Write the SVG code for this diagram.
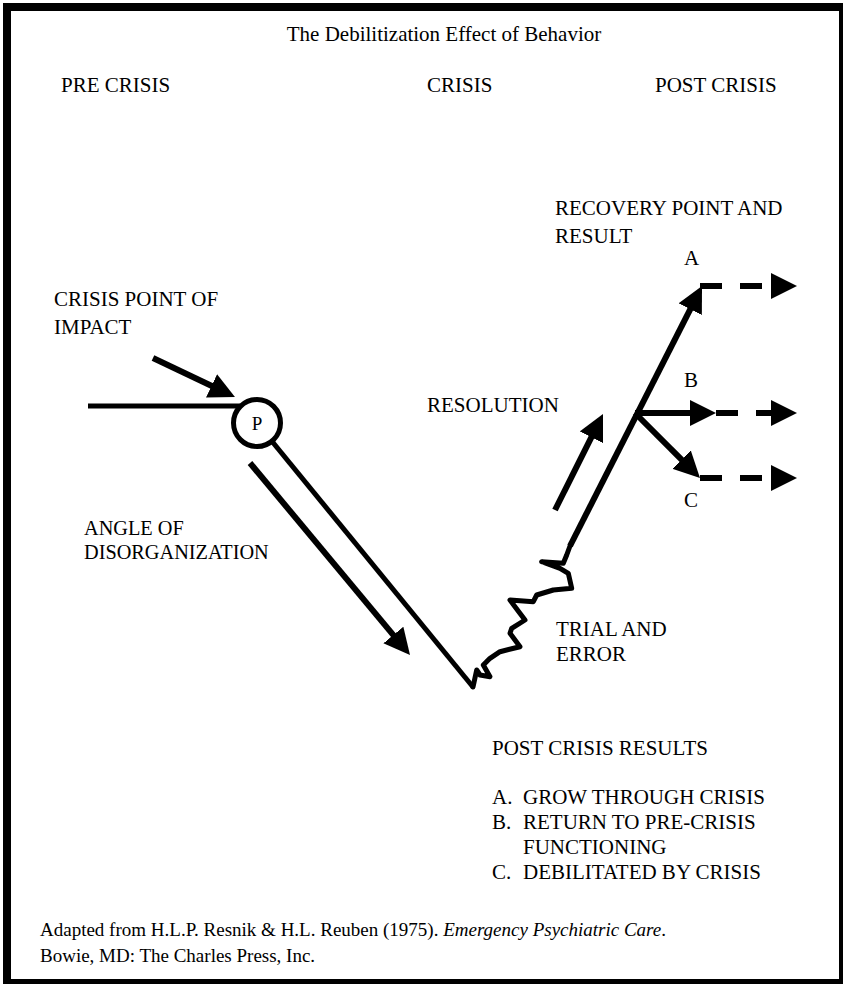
<svg xmlns="http://www.w3.org/2000/svg" width="844" height="984" viewBox="0 0 844 984">
  <style>
    text { font-family: "Liberation Serif", "Times New Roman", serif; fill: #000; }
    .lbl { font-size: 21px; }
    .foot { font-size: 19px; }
    .ln { stroke: #000; stroke-width: 5; fill: none; }
    .arr { stroke: #000; stroke-width: 6; fill: none; marker-end: url(#head); }
    .dash { stroke: #000; stroke-width: 6; fill: none; stroke-dasharray: 22 18; marker-end: url(#head); }
  </style>
  <defs>
    <marker id="head" markerUnits="userSpaceOnUse" viewBox="0 0 26 26" refX="1" refY="13" markerWidth="26" markerHeight="26" orient="auto">
      <path d="M0,0 L26,13 L0,26 z" fill="#000"/>
    </marker>
  </defs>

  <rect width="844" height="984" fill="#fff"/>
  <!-- frame: heavy top/left, lighter right/bottom -->
  <g id="frame" fill="#000">
    <rect x="3" y="3" width="840" height="8"/>
    <rect x="3" y="3" width="8" height="981"/>
    <rect x="839" y="3" width="4" height="981"/>
    <rect x="3" y="979" width="840" height="5"/>
  </g>

  <g id="headings">
    <text class="lbl" x="444" y="41" text-anchor="middle">The Debilitization Effect of Behavior</text>
    <text class="lbl" x="61" y="92">PRE CRISIS</text>
    <text class="lbl" x="427" y="92">CRISIS</text>
    <text class="lbl" x="655" y="92">POST CRISIS</text>
  </g>

  <g id="connectors">
    <!-- baseline into the point of impact -->
    <line class="ln" x1="88" y1="406" x2="240" y2="406" stroke-width="6"/>
    <!-- descent from P to the low point -->
    <line class="ln" x1="257" y1="423" x2="473" y2="687"/>
    <!-- trial and error -->
    <path class="ln" stroke-width="6" stroke-linejoin="round" stroke-linecap="round" d="M473,687 L476.7,670 L480,675 L490,676.7 L483.3,665 L490,658.3 L500,651.7 L520,646.7 L510,633.3 L511.7,628.3 L525,620 L515,606.7 L510,600 L533.3,601.7 L536.7,595 L553.3,590 L571.7,588.3 L568.3,573.3 L560,568.3 L541.7,561.7 L563.3,563.3 L566.7,555 L570,546"/>
    <!-- recovery line to A -->
    <line class="arr" x1="570" y1="546" x2="690.7" y2="308.3"/>
    <!-- B and C branches -->
    <line class="arr" x1="635" y1="413" x2="691" y2="413"/>
    <line class="arr" x1="635" y1="413" x2="682.3" y2="460.3"/>
    <!-- dashed continuations -->
    <line class="dash" x1="700" y1="286" x2="772" y2="286"/>
    <line class="dash" x1="716" y1="413" x2="772" y2="413" stroke-dasharray="22 19"/>
    <line class="dash" x1="700" y1="478" x2="772" y2="478"/>
    <!-- direction arrows -->
    <line class="arr" x1="153" y1="358" x2="212.4" y2="386.3"/>
    <line class="arr" x1="250" y1="463" x2="394" y2="635.8"/>
    <line class="arr" x1="555" y1="510" x2="591.8" y2="436.4"/>
  </g>

  <g id="point-p">
    <circle cx="257" cy="423" r="23.5" fill="#fff" stroke="#000" stroke-width="5"/>
    <text x="257" y="430" font-size="19" text-anchor="middle">P</text>
  </g>

  <g id="impact-label">
    <text class="lbl" x="54" y="306">CRISIS POINT OF</text>
    <text class="lbl" x="54" y="334">IMPACT</text>
  </g>
  <g id="disorganization-label">
    <text x="84" y="535" font-size="20.3">ANGLE OF</text>
    <text x="84" y="559" font-size="20.3">DISORGANIZATION</text>
  </g>
  <g id="trial-label">
    <text class="lbl" x="556" y="636">TRIAL AND</text>
    <text class="lbl" x="556" y="661">ERROR</text>
  </g>
  <g id="resolution-label">
    <text class="lbl" x="427" y="412">RESOLUTION</text>
  </g>
  <g id="recovery-label">
    <text class="lbl" x="555" y="215">RECOVERY POINT AND</text>
    <text class="lbl" x="555" y="243">RESULT</text>
  </g>
  <g id="outcome-letters">
    <text class="lbl" x="684" y="265">A</text>
    <text class="lbl" x="684" y="387">B</text>
    <text class="lbl" x="684" y="507">C</text>
  </g>

  <g id="results">
    <text class="lbl" x="492" y="755">POST CRISIS RESULTS</text>
    <text class="lbl" x="492" y="804">A.<tspan x="523">GROW THROUGH CRISIS</tspan></text>
    <text class="lbl" x="492" y="829">B.<tspan x="523">RETURN TO PRE-CRISIS</tspan></text>
    <text class="lbl" x="523" y="854">FUNCTIONING</text>
    <text class="lbl" x="492" y="879">C.<tspan x="523">DEBILITATED BY CRISIS</tspan></text>
  </g>

  <g id="source">
    <text class="foot" x="40" y="936">Adapted from H.L.P. Resnik &amp; H.L. Reuben (1975). <tspan font-style="italic">Emergency Psychiatric Care</tspan>.</text>
    <text class="foot" x="40" y="962">Bowie, MD: The Charles Press, Inc.</text>
  </g>
</svg>
